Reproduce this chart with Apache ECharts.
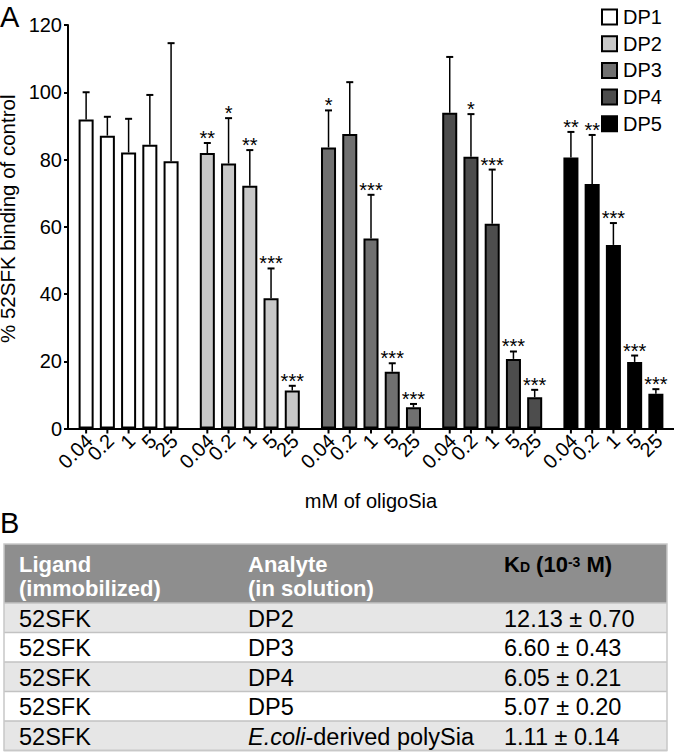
<!DOCTYPE html>
<html><head><meta charset="utf-8">
<script src="https://cdn.jsdelivr.net/npm/echarts@6/dist/echarts.min.js"></script>
<style>html,body{margin:0;padding:0;background:#fff}#c{width:674px;height:752px}</style>
</head><body><div id="c"></div>
<script>
// ---------- data ----------
const groups = ['DP1', 'DP2', 'DP3', 'DP4', 'DP5'];
const concentrations = ['0.04', '0.2', '1', '5', '25'];
const groupColors = ['#ffffff', '#c8c8c8', '#707070', '#4d4d4d', '#000000'];
const yTicks = [0, 20, 40, 60, 80, 100, 120];

const meanDP1 = [91.9, 87.1, 82.1, 84.4, 79.5];
const meanDP2 = [81.9, 78.8, 72.2, 38.7, 11.3];
const meanDP3 = [83.6, 87.6, 56.5, 16.9, 6.3];
const meanDP4 = [93.9, 80.8, 60.9, 20.7, 9.3];
const meanDP5 = [80.6, 72.7, 54.6, 19.8, 10.3];

const errDP1 = [8.1, 5.6, 10.0, 14.8, 35.1];
const errDP2 = [3.0, 13.5, 10.6, 8.9, 1.4];
const errDP3 = [11.0, 15.4, 13.0, 2.5, 1.0];
const errDP4 = [16.6, 12.7, 16.1, 2.2, 2.2];
const errDP5 = [7.6, 14.6, 6.5, 1.9, 1.4];

const starsDP1 = ['', '', '', '', ''];
const starsDP2 = ['**', '*', '**', '***', '***'];
const starsDP3 = ['*', '', '***', '***', '***'];
const starsDP4 = ['', '*', '***', '***', '***'];
const starsDP5 = ['**', '**', '***', '***', '***'];

const tableHeaderLine1 = ['Ligand', 'Analyte', 'KD'];
const tableHeaderLine2 = ['(immobilized)', '(in solution)', ''];
const tableLigand = ['52SFK', '52SFK', '52SFK', '52SFK', '52SFK'];
const tableAnalyte = ['DP2', 'DP3', 'DP4', 'DP5', 'E.coli-derived polySia'];
const tableKd = ['12.13 ± 0.70', '6.60 ± 0.43', '6.05 ± 0.21', '5.07 ± 0.20', '1.11 ± 0.14'];

const means = [meanDP1, meanDP2, meanDP3, meanDP4, meanDP5];
const errs = [errDP1, errDP2, errDP3, errDP4, errDP5];
const stars = [starsDP1, starsDP2, starsDP3, starsDP4, starsDP5];

// ---------- style ----------
const FONT = '"Liberation Sans", Arial, Helvetica, sans-serif';
const CAT_GAP = 0.175, BAR_GAP = 0.413;

const chart = echarts.init(document.getElementById('c'), null, {renderer: 'svg'});

const barSeries = concentrations.map((c, ci) => ({
  type: 'bar', name: 'c' + c, xAxisIndex: 0, yAxisIndex: 0,
  barGap: (BAR_GAP * 100) + '%', barCategoryGap: (CAT_GAP * 100) + '%',
  data: groups.map((g, gi) => ({value: means[gi][ci], itemStyle: {color: groupColors[gi]}})),
  itemStyle: {borderColor: '#000', borderWidth: 2},
  silent: true, z: 2
}));

const legendSeries = groups.map((g, gi) => ({
  type: 'bar', name: g, xAxisIndex: 1, yAxisIndex: 0, data: [],
  itemStyle: {color: groupColors[gi], borderColor: '#000', borderWidth: 2}
}));

const errData = [];
groups.forEach((g, gi) => concentrations.forEach((c, ci) => {
  errData.push([gi, ci, means[gi][ci], errs[gi][ci]]);
}));

const errSeries = {
  type: 'custom', xAxisIndex: 0, yAxisIndex: 0, z: 5, silent: true,
  encode: {x: 0, y: 2},
  data: errData,
  renderItem: function (params, api) {
    const gi = api.value(0), ci = api.value(1), mean = api.value(2), err = api.value(3);
    const n = concentrations.length;
    const band = api.size([1, 0])[0];
    const span = band * (1 - CAT_GAP);
    const bw = span / (n + (n - 1) * BAR_GAP);
    const base = api.coord([gi, 0]);
    const x = base[0] - span / 2 + ci * bw * (1 + BAR_GAP) + bw / 2;
    const y0 = base[1];
    const yTop = api.coord([gi, mean])[1];
    const yErr = api.coord([gi, mean + err])[1];
    const st = stars[gi][ci];
    const children = [
      {type: 'line', shape: {x1: x, y1: yTop, x2: x, y2: yErr}, style: {stroke: '#000', lineWidth: 1.5}},
      {type: 'line', shape: {x1: x - 3.5, y1: yErr, x2: x + 3.5, y2: yErr}, style: {stroke: '#000', lineWidth: 2}},
      {type: 'line', shape: {x1: x, y1: y0, x2: x, y2: y0 + 5}, style: {stroke: '#000', lineWidth: 2}},
      {type: 'text', x: x + 3, y: y0 + 9, rotation: Math.PI / 4,
        style: {text: concentrations[ci], align: 'right', verticalAlign: 'middle', font: '20px ' + FONT, fill: '#000'}}
    ];
    if (st) {
      children.push({type: 'text', x: x, y: yErr - 5,
        style: {text: st, align: 'center', verticalAlign: 'middle', font: '20px ' + FONT, fill: '#000'}});
    }
    return {type: 'group', children: children};
  }
};

// ---------- table (graphic) ----------
const graphic = [];
graphic.push({type: 'text', x: 0, y: 2, style: {text: 'A', font: '29px ' + FONT, fill: '#000'}});
graphic.push({type: 'text', x: 0, y: 508, style: {text: 'B', font: '29px ' + FONT, fill: '#000'}});

const T = {x: 4, w: 663, top: 544, headH: 59, rowH: 29.5};
const colX = [19, 248, 504];
graphic.push({type: 'rect', shape: {x: T.x, y: T.top, width: T.w, height: T.headH}, style: {fill: '#8e8e8e'}});
tableLigand.forEach((v, i) => {
  const y = T.top + T.headH + i * T.rowH;
  graphic.push({type: 'rect', shape: {x: T.x, y: y, width: T.w, height: T.rowH},
    style: {fill: i % 2 === 0 ? '#e6e6e6' : '#ffffff'}});
});
for (let i = 0; i <= tableLigand.length; i++) {
  const y = T.top + T.headH + i * T.rowH;
  graphic.push({type: 'line', shape: {x1: T.x, y1: y, x2: T.x + T.w, y2: y}, style: {stroke: '#c2c2c2', lineWidth: 1.5}});
}
graphic.push({type: 'rect', shape: {x: T.x, y: T.top, width: T.w, height: T.headH + tableLigand.length * T.rowH},
  style: {fill: 'none', stroke: '#c8c8c8', lineWidth: 1.5}});

const hFont = 'bold 22px ' + FONT;
[0, 1].forEach(ci => {
  graphic.push({type: 'text', x: colX[ci], y: T.top + 20, style: {text: tableHeaderLine1[ci], font: hFont, fill: '#fff', verticalAlign: 'middle'}});
  graphic.push({type: 'text', x: colX[ci], y: T.top + 44, style: {text: tableHeaderLine2[ci], font: hFont, fill: '#fff', verticalAlign: 'middle'}});
});
graphic.push({type: 'text', x: colX[2], y: T.top + 20, style: {
  text: '{m|K}{s|D}{m| (10}{p|-3}{m| M)}', verticalAlign: 'middle',
  rich: {
    m: {fontSize: 22, fontWeight: 'bold', fontFamily: FONT, color: '#fff', height: 26},
    s: {fontSize: 14, fontWeight: 'bold', fontFamily: FONT, color: '#fff', verticalAlign: 'bottom', height: 20},
    p: {fontSize: 14, fontWeight: 'bold', fontFamily: FONT, color: '#fff', verticalAlign: 'top', height: 22}
  }
}});

const dFont = '23.5px ' + FONT;
tableLigand.forEach((v, i) => {
  const yc = T.top + T.headH + i * T.rowH + T.rowH / 2 + 1;
  graphic.push({type: 'text', x: colX[0], y: yc, style: {text: v, font: dFont, fill: '#000', verticalAlign: 'middle'}});
  const a = tableAnalyte[i];
  if (a.indexOf('E.coli') === 0) {
    graphic.push({type: 'text', x: colX[1], y: yc, style: {
      text: '{i|E.coli}{n|' + a.slice(6) + '}', verticalAlign: 'middle',
      rich: {i: {fontSize: 23.5, fontStyle: 'italic', fontFamily: FONT, color: '#000'},
             n: {fontSize: 23.5, fontFamily: FONT, color: '#000'}}
    }});
  } else {
    graphic.push({type: 'text', x: colX[1], y: yc, style: {text: a, font: dFont, fill: '#000', verticalAlign: 'middle'}});
  }
  graphic.push({type: 'text', x: colX[2], y: yc, style: {text: tableKd[i], font: dFont, fill: '#000', verticalAlign: 'middle'}});
});

const option = {
  animation: false,
  backgroundColor: '#fff',
  textStyle: {fontFamily: FONT},
  grid: {left: 68, right: 0, top: 25, bottom: 323.5, containLabel: false, outerBoundsMode: 'none'},
  legend: {
    orient: 'vertical', left: 596, top: 2, itemWidth: 15, itemHeight: 15, itemGap: 6.7,
    icon: 'rect', data: groups, selectedMode: false,
    itemStyle: {borderColor: '#000', borderWidth: 2},
    textStyle: {fontSize: 20, fontFamily: FONT, color: '#000', lineHeight: 15, padding: [0, 0, 0, 1]}
  },
  xAxis: [
    {type: 'category', data: groups, gridIndex: 0,
     axisLine: {show: true, lineStyle: {color: '#000', width: 2}},
     axisTick: {show: false}, axisLabel: {show: false}, splitLine: {show: false},
     name: 'mM of oligoSia', nameLocation: 'middle', nameGap: 62,
     nameTextStyle: {fontSize: 20, fontFamily: FONT, color: '#000'}},
    {type: 'category', data: groups, gridIndex: 0, show: false}
  ],
  yAxis: {
    type: 'value', min: yTicks[0], max: yTicks[yTicks.length - 1], interval: 20,
    axisLine: {show: true, lineStyle: {color: '#000', width: 2}},
    axisTick: {show: true, length: 4, lineStyle: {color: '#000', width: 2}},
    axisLabel: {fontSize: 20, fontFamily: FONT, color: '#000', margin: 6},
    splitLine: {show: false},
    name: '% 52SFK binding of control', nameLocation: 'middle', nameGap: 43,
    nameTextStyle: {fontSize: 20.5, fontFamily: FONT, color: '#000', padding: [0, 0, 0, 16]}
  },
  series: [...barSeries, ...legendSeries, errSeries],
  graphic: graphic
};
chart.setOption(option);
</script>
</body></html>
